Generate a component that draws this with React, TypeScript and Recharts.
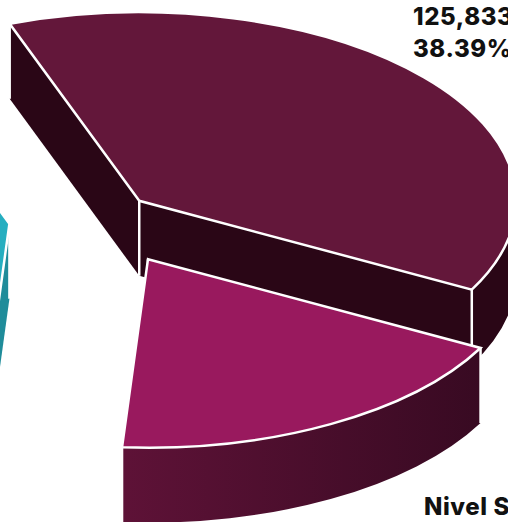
import React from "react";
import { PieChart, Pie } from "recharts";

const categories = ["Nivel Medio", "Nivel Superior", "Nivel Básico"];
const counts = [125833, 59950, 141992];
const shares = ["38.39%", "18.29%", "43.32%"];

const rows = categories.map((name, i) => ({ name, value: counts[i], share: shares[i] }));

const SQUASH = 0.5;
const DEPTH = 75;
const explode = [50, 96, 93];
const topFill = ["#63173a", "#99195e", "#25aec0"];
const wallStops = [
  ["#2a0616", "#2a0616"],
  ["#5e1237", "#380a22"],
  ["#1a7785", "#22929f"],
];
const faceFill = ["#2a0616", "#380a22", "#1f8c9a"];

const FONT = "Inter, 'Noto Sans', sans-serif";

function Slice3D(props: any) {
  const i = categories.indexOf(props.name);
  const { cx, cy, outerRadius: r, startAngle, endAngle, midAngle } = props;
  const rad = (a: number) => (a * Math.PI) / 180;
  const mid = -midAngle;
  const ax = cx + explode[i] * Math.cos(rad(mid));
  const ay = cy + explode[i] * SQUASH * Math.sin(rad(mid));
  const th0 = -startAngle;
  const th1 = -endAngle;
  const pt = (t: number, dy = 0): [number, number] => [
    ax + r * Math.cos(rad(t)),
    ay + r * SQUASH * Math.sin(rad(t)) + dy,
  ];
  const [sx, sy] = pt(th0);
  const [ex, ey] = pt(th1);
  const ry = r * SQUASH;
  const large = th1 - th0 > 180 ? 1 : 0;
  const top = `M${ax},${ay}L${sx},${sy}A${r},${ry} 0 ${large} 1 ${ex},${ey}Z`;

  // Visible outer wall: the front half of the ellipse only.
  const norm = ((th0 % 360) + 360) % 360;
  const offset = th0 - norm;
  let wall = "";
  const candidates = [0, 360].map((k) => [k + offset, k + 180 + offset]);
  for (const [lo, hi] of candidates) {
    const a = Math.max(lo, th0);
    const b = Math.min(hi, th1);
    if (b > a) {
      const [x0, y0] = pt(a);
      const [x1, y1] = pt(b);
      wall += `M${x0},${y0}A${r},${ry} 0 0 1 ${x1},${y1}L${x1},${y1 + DEPTH}A${r},${ry} 0 0 0 ${x0},${y0 + DEPTH}Z`;
    }
  }
  const faceA = `M${ax},${ay}L${sx},${sy}L${sx},${sy + DEPTH}L${ax},${ay + DEPTH}Z`;
  const faceB = `M${ax},${ay}L${ex},${ey}L${ex},${ey + DEPTH}L${ax},${ay + DEPTH}Z`;
  const gid = `wall-${i}`;
  return (
    <g>
      <defs>
        <linearGradient id={gid} x1="0" y1="0" x2="1" y2="0">
          <stop offset="0" stopColor={wallStops[i][0]} />
          <stop offset="1" stopColor={wallStops[i][1]} />
        </linearGradient>
      </defs>
      <path d={faceA} fill={faceFill[i]} />
      <path d={faceB} fill={faceFill[i]} />
      <path d={wall} fill={`url(#${gid})`} />
      {[[ax, ay], [sx, sy], [ex, ey]].map(([x, y], k) => (
        <line key={k} x1={x} y1={y} x2={x} y2={y + DEPTH} stroke="#fff" strokeWidth={2.5} />
      ))}
      <path d={top} fill={topFill[i]} stroke="#fff" strokeWidth={2.5} strokeLinejoin="miter" />
    </g>
  );
}

function SliceLabel(props: any) {
  const i = categories.indexOf(props.name);
  const common = { fontFamily: FONT, fontWeight: 800, fill: "#111", letterSpacing: 0.6 };
  if (i === 0) {
    return (
      <g>
        <text x={413} y={25} fontSize={24} {...common}>{props.value.toLocaleString("en-US")}</text>
        <text x={413} y={57} fontSize={24} {...common}>{props.share}</text>
      </g>
    );
  }
  if (i === 1) {
    return <text x={424} y={515} fontSize={24} {...common}>{props.name}</text>;
  }
  return <g />;
}

export default function App() {
  return (
    <div style={{ position: "absolute", left: 0, top: 0, width: 508, height: 522, overflow: "hidden", background: "#fff" }}>
      <PieChart width={508} height={522} margin={{ top: 0, right: 0, bottom: 0, left: 0 }}>
        <Pie
          data={rows}
          dataKey="value"
          nameKey="name"
          cx={101.5}
          cy={217.2}
          innerRadius={0}
          outerRadius={377}
          startAngle={110.1}
          endAngle={-249.9}
          stroke="none"
          isAnimationActive={false}
          shape={Slice3D}
          label={SliceLabel}
          labelLine={false}
        />
      </PieChart>
    </div>
  );
}
